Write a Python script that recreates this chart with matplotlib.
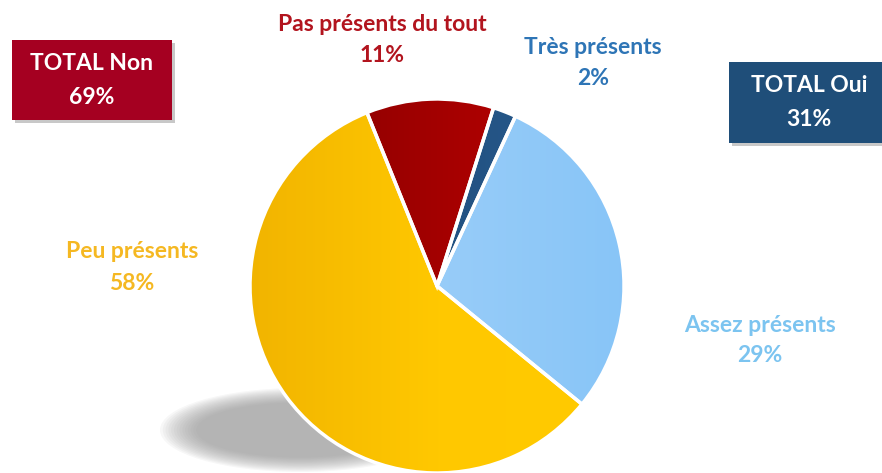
import numpy as np
import matplotlib
matplotlib.use("Agg")
import matplotlib.pyplot as plt
from matplotlib.patches import Rectangle, Ellipse
from matplotlib.colors import LinearSegmentedColormap

plt.rcParams['font.family'] = ['Lato', 'DejaVu Sans']

# Data
categories = ["Pas présents du tout", "Très présents", "Assez présents", "Peu présents"]
values = [11, 2, 29, 58]
labels_pct = ["11%", "2%", "29%", "58%"]
totals = ["TOTAL Non", "TOTAL Oui"]
total_values = ["69%", "31%"]

W, H = 882, 473
fig = plt.figure(figsize=(W / 100, H / 100), dpi=100)
ax = fig.add_axes([0, 0, 1, 1])

def Y(y):
    return H - y

cx, cy, R = 437, Y(286), 187

# shadow (soft)
for i in range(14):
    f = 1 - i / 14
    ax.add_patch(Ellipse((300, Y(430)), 260 * (0.7 + 0.3 * f) + 20, 78 * (0.6 + 0.4 * f) + 6,
                         facecolor='#909090', edgecolor='none', alpha=0.07, zorder=1))

colors = ['#B00000', '#1F4E79', '#8EC8F8', '#FFC800']
grads = [('#7E0000', '#C80000'), ('#1A4470', '#2A5E92'), ('#AAD5FA', '#86C4F7'), ('#F0B200', '#FFC800', '#FFCB00')]
explode = [0.015, 0.0, 0.045, 0.0]

wedges, _ = ax.pie(values, colors=colors, startangle=112, counterclock=False,
                   center=(cx, cy), radius=R, explode=explode,
                   wedgeprops=dict(edgecolor='white', linewidth=2.5), frame=True)
ax.set_xlim(0, W)
ax.set_ylim(0, H)
ax.set_aspect('equal')
ax.axis('off')

for w, cl in zip(wedges, grads):
    w.set_zorder(3)
    cmap = LinearSegmentedColormap.from_list('g', list(cl))
    gx = np.linspace(0, 1, 256)
    img = np.tile(gx, (2, 1))
    im = ax.imshow(img, cmap=cmap, extent=(cx - R - 20, cx + R + 20, cy - R - 20, cy + R + 20),
                   aspect='auto', zorder=2, interpolation='bicubic')
    im.set_clip_path(w)
    w.set_facecolor('none')

# text labels
fs = 16.5
lab_pos = [(382, 25, 56, '#B2141E'), (593, 48, 79, '#2E75B6'),
           (760, 325, 355, '#7CC4F0'), (132, 251, 283, '#F5B822')]
for (x, y1, y2, col), cat, pct in zip(lab_pos, categories, labels_pct):
    ax.text(x, Y(y1), cat, color=col, fontsize=fs, fontweight='bold', ha='center', va='center', zorder=5)
    ax.text(x, Y(y2), pct, color=col, fontsize=fs, fontweight='bold', ha='center', va='center', zorder=5)

# total boxes
boxes = [(12, 40, 160, 80, '#A50021'), (729, 62, 160, 81, '#1F4E79')]
for (x, y, w, h, col), t, v in zip(boxes, totals, total_values):
    ax.add_patch(Rectangle((x + 3, Y(y + h) - 3), w, h, facecolor='#c8c8c8', edgecolor='none', zorder=3))
    ax.add_patch(Rectangle((x, Y(y + h)), w, h, facecolor=col, edgecolor='none', zorder=4))
    tx = x + 80
    ax.text(tx, Y(y + 24), t, color='white', fontsize=fs, fontweight='bold', ha='center', va='center', zorder=5)
    ax.text(tx, Y(y + 58), v, color='white', fontsize=fs, fontweight='bold', ha='center', va='center', zorder=5)

fig.savefig('out.png', dpi=100)
